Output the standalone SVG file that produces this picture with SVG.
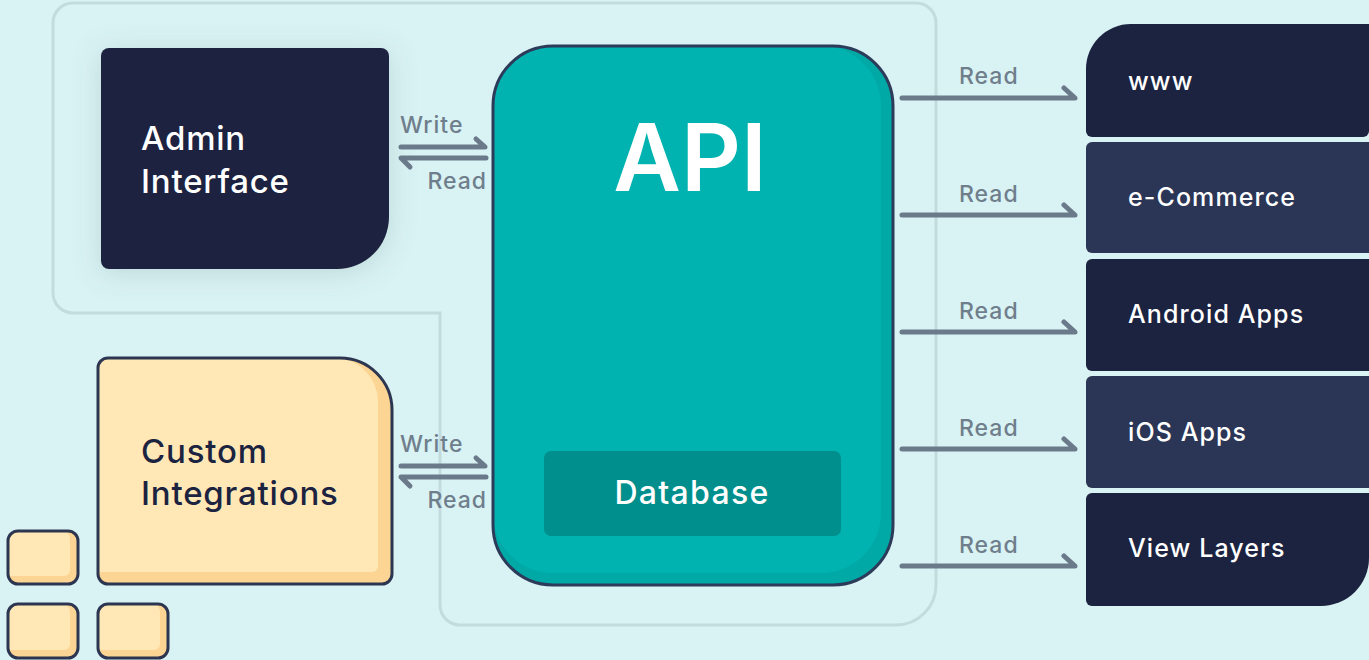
<svg xmlns="http://www.w3.org/2000/svg" width="1369" height="660" viewBox="0 0 1369 660">
<defs>
<style>
.lbl{font-family:Inter,Roboto,"Liberation Sans",sans-serif;font-weight:500;font-size:23px;letter-spacing:1px;fill:#6f7e8c}
.wt{font-family:Inter,Roboto,"Liberation Sans",sans-serif;font-weight:500;fill:#ffffff}
.dk{font-family:Inter,Roboto,"Liberation Sans",sans-serif;font-weight:500;fill:#1b2340}
.big{font-size:33px;letter-spacing:0.8px}
.side{font-size:25px;letter-spacing:1.1px}
.arr{fill:none;stroke:#6b7a8a;stroke-width:5;stroke-linecap:round;stroke-linejoin:round}
.out{fill:none;stroke:#2d3650;stroke-width:3}
</style>
<filter id="sh" x="-30%" y="-30%" width="160%" height="160%">
<feDropShadow dx="0" dy="4" stdDeviation="14" flood-color="#5a7c85" flood-opacity="0.22"/>
</filter>
</defs>
<rect width="1369" height="660" fill="#d9f2f3"/>
<path d="M73 3 H916 A20 20 0 0 1 936 23 V585 A40 40 0 0 1 896 625 H460 A20 20 0 0 1 440 605 V313 H73 A20 20 0 0 1 53 293 V23 A20 20 0 0 1 73 3 Z" fill="none" stroke="#c3dbde" stroke-width="3"/>

<g id="admin">
<path d="M109 48 H381 A8 8 0 0 1 389 56 V217 A52 52 0 0 1 337 269 H109 A8 8 0 0 1 101 261 V56 A8 8 0 0 1 109 48 Z" fill="#1b2340" filter="url(#sh)"/>
<text class="wt big" x="141" y="150">Admin</text>
<text class="wt big" x="141" y="193">Interface</text>
</g>

<g id="custom">
<path d="M108 358 H340 A52 52 0 0 1 392 410 V574 A10 10 0 0 1 382 584 H108 A10 10 0 0 1 98 574 V368 A10 10 0 0 1 108 358 Z" fill="#fcd594"/>
<path d="M108 358 H334 A44 44 0 0 1 378 402 V566 A6 6 0 0 1 372 572 H98 V368 A10 10 0 0 1 108 358 Z" fill="#ffe8b5"/>
<path class="out" d="M108 358 H340 A52 52 0 0 1 392 410 V574 A10 10 0 0 1 382 584 H108 A10 10 0 0 1 98 574 V368 A10 10 0 0 1 108 358 Z"/>
<text class="dk big" x="141" y="463">Custom</text>
<text class="dk big" x="141" y="505">Integrations</text>
</g>

<g id="mini1">
<rect x="8" y="531" width="70" height="53" rx="10" fill="#fcd594"/>
<path d="M18 531 H62 A8 8 0 0 1 70 539 V570 A6 6 0 0 1 64 576 H8 V541 A10 10 0 0 1 18 531 Z" fill="#ffe8b5"/>
<rect class="out" x="8" y="531" width="70" height="53" rx="10"/>
</g>
<g id="mini2">
<rect x="8" y="604" width="70" height="54" rx="10" fill="#fcd594"/>
<path d="M18 604 H62 A8 8 0 0 1 70 612 V644 A6 6 0 0 1 64 650 H8 V614 A10 10 0 0 1 18 604 Z" fill="#ffe8b5"/>
<rect class="out" x="8" y="604" width="70" height="54" rx="10"/>
</g>
<g id="mini3">
<rect x="98" y="604" width="70" height="54" rx="10" fill="#fcd594"/>
<path d="M108 604 H152 A8 8 0 0 1 160 612 V644 A6 6 0 0 1 154 650 H98 V614 A10 10 0 0 1 108 604 Z" fill="#ffe8b5"/>
<rect class="out" x="98" y="604" width="70" height="54" rx="10"/>
</g>

<g id="api">
<rect x="493" y="46" width="400" height="539" rx="60" fill="#00a8a6"/>
<path d="M553 46 H821 A60 60 0 0 1 881 106 V513 A60 60 0 0 1 821 573 H553 A60 60 0 0 1 493 513 V106 A60 60 0 0 1 553 46 Z" fill="#00b3b1"/>
<rect x="493" y="46" width="400" height="539" rx="60" fill="none" stroke="#2d3b5a" stroke-width="3"/>
<text x="690" y="191" text-anchor="middle" font-family="Inter,Roboto,'Liberation Sans',sans-serif" font-weight="600" font-size="93" fill="#ffffff">API</text>
</g>
<g id="database">
<rect x="544" y="451" width="297" height="85" rx="7" fill="#008f8c"/>
<text class="wt" x="692" y="504" text-anchor="middle" font-size="32" letter-spacing="1.3">Database</text>
</g>

<g id="www">
<path d="M1131 24 H1369 V131 A6 6 0 0 1 1363 137 H1092 A6 6 0 0 1 1086 131 V69 A45 45 0 0 1 1131 24 Z" fill="#1b2340"/>
<text class="wt side" x="1128" y="90">www</text>
</g>
<g id="ecommerce">
<path d="M1092 142 H1369 V253 H1092 A6 6 0 0 1 1086 247 V148 A6 6 0 0 1 1092 142 Z" fill="#2b3656"/>
<text class="wt side" x="1128" y="206">e-Commerce</text>
</g>
<g id="android">
<path d="M1092 259 H1369 V371 H1092 A6 6 0 0 1 1086 365 V265 A6 6 0 0 1 1092 259 Z" fill="#1b2340"/>
<text class="wt side" x="1128" y="323">Android Apps</text>
</g>
<g id="ios">
<path d="M1092 376 H1369 V488 H1092 A6 6 0 0 1 1086 482 V382 A6 6 0 0 1 1092 376 Z" fill="#2b3656"/>
<text class="wt side" x="1128" y="441">iOS Apps</text>
</g>
<g id="view">
<path d="M1092 493 H1369 V558 A48 48 0 0 1 1321 606 H1092 A6 6 0 0 1 1086 600 V499 A6 6 0 0 1 1092 493 Z" fill="#1b2340"/>
<text class="wt side" x="1128" y="557">View Layers</text>
</g>

<g id="connectors">
<path class="arr" d="M401 147 H485 L476 139"/>
<path class="arr" d="M486 158 H401 L410 167"/>
<text class="lbl" x="400" y="133">Write</text>
<text class="lbl" x="487" y="189" text-anchor="end">Read</text>
<path class="arr" d="M401 466 H485 L476 458"/>
<path class="arr" d="M486 477 H401 L410 486"/>
<text class="lbl" x="400" y="452">Write</text>
<text class="lbl" x="487" y="508" text-anchor="end">Read</text>
<path class="arr" d="M902 98 H1075 L1064 88"/>
<path class="arr" d="M902 215 H1075 L1064 205"/>
<path class="arr" d="M902 332 H1075 L1064 322"/>
<path class="arr" d="M902 449 H1075 L1064 439"/>
<path class="arr" d="M902 566 H1075 L1064 556"/>
<text class="lbl" x="959" y="84">Read</text>
<text class="lbl" x="959" y="202">Read</text>
<text class="lbl" x="959" y="319">Read</text>
<text class="lbl" x="959" y="436">Read</text>
<text class="lbl" x="959" y="553">Read</text>
</g>
</svg>
